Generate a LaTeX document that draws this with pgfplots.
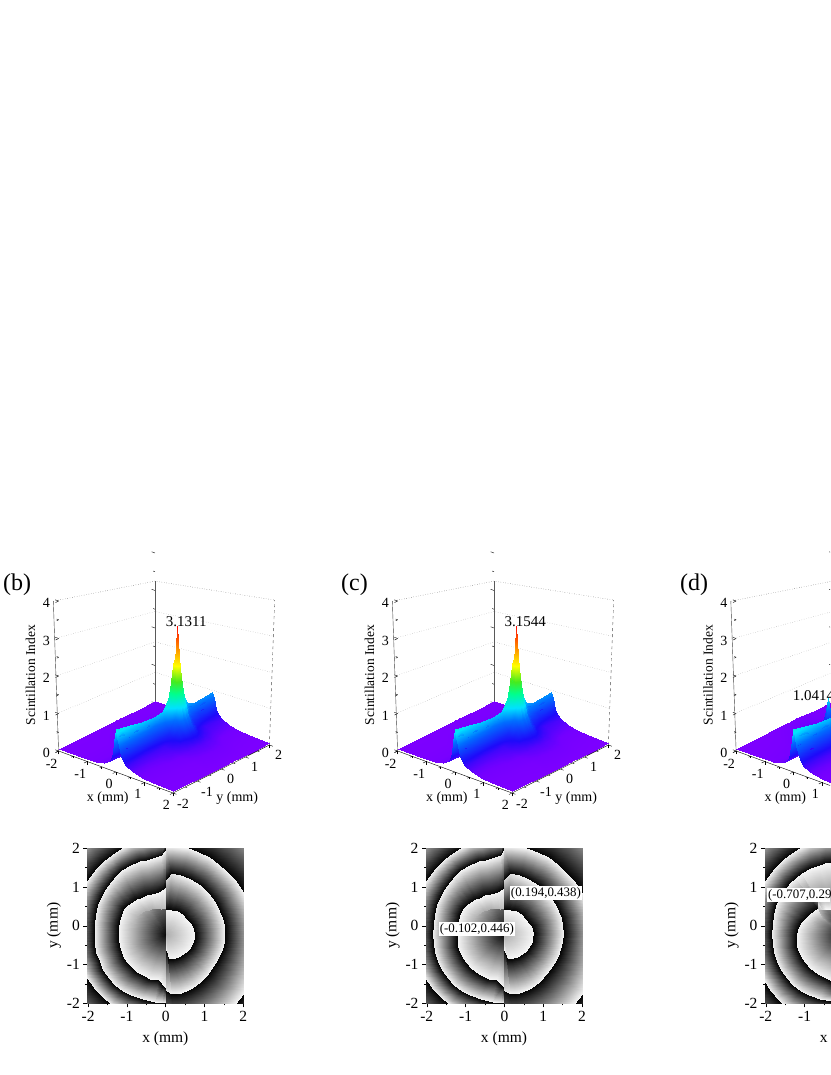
\documentclass[border=0pt]{standalone}
\usepackage{fontspec}
\setmainfont{Liberation Serif}
\usepackage{pgfplots}
\usepackage{pgfplotstable}
\pgfplotsset{compat=1.18}

% scintillation surface for (b) and (c), one line per x
\pgfplotstableread[row sep=\\]{
x y z\\
-2 -2 .05\\ -2 -1.4 .05\\ -2 -.9 .05\\ -2 -.4 .05\\ -2 -.06 .05\\ -2 .19 .05\\ -2 .32 .05\\ -2 .39 .05\\ -2 .44 .05\\ -2 .49 .05\\ -2 .56 .05\\ -2 .69 .05\\ -2 .94 .05\\ -2 1.3 .05\\ -2 2 .05\\
-1.2 -2 .06\\ -1.2 -1.4 .06\\ -1.2 -.9 .06\\ -1.2 -.4 .07\\ -1.2 -.06 .08\\ -1.2 .19 .09\\ -1.2 .32 .09\\ -1.2 .39 .09\\ -1.2 .44 .09\\ -1.2 .49 .09\\ -1.2 .56 .09\\ -1.2 .69 .09\\ -1.2 .94 .08\\ -1.2 1.3 .07\\ -1.2 2 .06\\
-.7 -2 .08\\ -.7 -1.4 .08\\ -.7 -.9 .09\\ -.7 -.4 .12\\ -.7 -.06 .15\\ -.7 .19 .17\\ -.7 .32 .18\\ -.7 .39 .18\\ -.7 .44 .18\\ -.7 .49 .18\\ -.7 .56 .18\\ -.7 .69 .17\\ -.7 .94 .15\\ -.7 1.3 .12\\ -.7 2 .08\\
-.4 -2 .14\\ -.4 -1.4 .13\\ -.4 -.9 .14\\ -.4 -.4 .19\\ -.4 -.06 .26\\ -.4 .19 .33\\ -.4 .32 .37\\ -.4 .39 .37\\ -.4 .44 .37\\ -.4 .49 .37\\ -.4 .56 .37\\ -.4 .69 .33\\ -.4 .94 .25\\ -.4 1.3 .18\\ -.4 2 .13\\
-.2 -2 .24\\ -.2 -1.4 .22\\ -.2 -.9 .23\\ -.2 -.4 .26\\ -.2 -.06 .34\\ -.2 .19 .50\\ -.2 .32 .66\\ -.2 .39 .69\\ -.2 .44 .69\\ -.2 .49 .69\\ -.2 .56 .66\\ -.2 .69 .50\\ -.2 .94 .32\\ -.2 1.3 .24\\ -.2 2 .20\\
-.1 -2 .47\\ -.1 -1.4 .43\\ -.1 -.9 .42\\ -.1 -.4 .43\\ -.1 -.06 .52\\ -.1 .19 .76\\ -.1 .32 1.05\\ -.1 .39 1.14\\ -.1 .44 1.15\\ -.1 .49 1.14\\ -.1 .56 1.05\\ -.1 .69 .75\\ -.1 .94 .50\\ -.1 1.3 .38\\ -.1 2 .37\\
-.05 -2 .80\\ -.05 -1.4 .73\\ -.05 -.9 .70\\ -.05 -.4 .68\\ -.05 -.06 .76\\ -.05 .19 1.05\\ -.05 .32 1.45\\ -.05 .39 1.59\\ -.05 .44 1.63\\ -.05 .49 1.59\\ -.05 .56 1.44\\ -.05 .69 1.05\\ -.05 .94 .72\\ -.05 1.3 .60\\ -.05 2 .60\\
0 -2 1.15\\ 0 -1.4 1.05\\ 0 -.9 .99\\ 0 -.4 .95\\ 0 -.06 1.00\\ 0 .19 1.30\\ 0 .32 1.87\\ 0 .39 2.12\\ 0 .44 2.20\\ 0 .49 2.12\\ 0 .56 1.86\\ 0 .69 1.30\\ 0 .94 .90\\ 0 1.3 .82\\ 0 2 .85\\
.05 -2 .95\\ .05 -1.4 .87\\ .05 -.9 .82\\ .05 -.4 .80\\ .05 -.06 .88\\ .05 .19 1.25\\ .05 .32 1.85\\ .05 .39 2.30\\ .05 .44 2.50\\ .05 .49 2.30\\ .05 .56 1.84\\ .05 .69 1.25\\ .05 .94 .82\\ .05 1.3 .70\\ .05 2 .72\\
.1 -2 .73\\ .1 -1.4 .67\\ .1 -.9 .64\\ .1 -.4 .62\\ .1 -.06 .72\\ .1 .19 1.12\\ .1 .32 1.73\\ .1 .39 2.33\\ .1 .44 3.13\\ .1 .49 2.33\\ .1 .56 1.72\\ .1 .69 1.12\\ .1 .94 .70\\ .1 1.3 .56\\ .1 2 .56\\
.15 -2 .57\\ .15 -1.4 .52\\ .15 -.9 .50\\ .15 -.4 .50\\ .15 -.06 .60\\ .15 .19 1.00\\ .15 .32 1.55\\ .15 .39 2.00\\ .15 .44 2.20\\ .15 .49 2.00\\ .15 .56 1.54\\ .15 .69 1.00\\ .15 .94 .60\\ .15 1.3 .46\\ .15 2 .43\\
.22 -2 .41\\ .22 -1.4 .38\\ .22 -.9 .37\\ .22 -.4 .38\\ .22 -.06 .50\\ .22 .19 .82\\ .22 .32 1.23\\ .22 .39 1.43\\ .22 .44 1.48\\ .22 .49 1.43\\ .22 .56 1.23\\ .22 .69 .82\\ .22 .94 .50\\ .22 1.3 .35\\ .22 2 .32\\
.35 -2 .27\\ .35 -1.4 .25\\ .35 -.9 .25\\ .35 -.4 .27\\ .35 -.06 .37\\ .35 .19 .58\\ .35 .32 .78\\ .35 .39 .84\\ .35 .44 .85\\ .35 .49 .84\\ .35 .56 .78\\ .35 .69 .58\\ .35 .94 .36\\ .35 1.3 .26\\ .35 2 .22\\
.6 -2 .16\\ .6 -1.4 .15\\ .6 -.9 .16\\ .6 -.4 .20\\ .6 -.06 .28\\ .6 .19 .35\\ .6 .32 .39\\ .6 .39 .39\\ .6 .44 .39\\ .6 .49 .39\\ .6 .56 .39\\ .6 .69 .35\\ .6 .94 .27\\ .6 1.3 .20\\ .6 2 .15\\
.9 -2 .10\\ .9 -1.4 .10\\ .9 -.9 .11\\ .9 -.4 .13\\ .9 -.06 .17\\ .9 .19 .19\\ .9 .32 .20\\ .9 .39 .20\\ .9 .44 .20\\ .9 .49 .20\\ .9 .56 .20\\ .9 .69 .19\\ .9 .94 .17\\ .9 1.3 .12\\ .9 2 .10\\
1.3 -2 .07\\ 1.3 -1.4 .07\\ 1.3 -.9 .07\\ 1.3 -.4 .08\\ 1.3 -.06 .10\\ 1.3 .19 .11\\ 1.3 .32 .11\\ 1.3 .39 .11\\ 1.3 .44 .11\\ 1.3 .49 .11\\ 1.3 .56 .11\\ 1.3 .69 .11\\ 1.3 .94 .10\\ 1.3 1.3 .08\\ 1.3 2 .07\\
2 -2 .05\\ 2 -1.4 .05\\ 2 -.9 .05\\ 2 -.4 .05\\ 2 -.06 .05\\ 2 .19 .05\\ 2 .32 .05\\ 2 .39 .05\\ 2 .44 .05\\ 2 .49 .05\\ 2 .56 .05\\ 2 .69 .05\\ 2 .94 .05\\ 2 1.3 .05\\ 2 2 .05\\
}\surfbc

% surface for (d), peak near (-0.707,0.29)
\pgfplotstableread[row sep=\\]{
x y z\\
-2 -2 .05\\ -2 -1 .05\\ -2 -.3 .06\\ -2 .1 .07\\ -2 .22 .07\\ -2 .29 .07\\ -2 .36 .07\\ -2 .5 .07\\ -2 .9 .06\\ -2 1.3 .05\\ -2 2 .05\\
-1.2 -2 .06\\ -1.2 -1 .07\\ -1.2 -.3 .11\\ -1.2 .1 .16\\ -1.2 .22 .16\\ -1.2 .29 .16\\ -1.2 .36 .16\\ -1.2 .5 .15\\ -1.2 .9 .11\\ -1.2 1.3 .08\\ -1.2 2 .06\\
-.9 -2 .07\\ -.9 -1 .09\\ -.9 -.3 .15\\ -.9 .1 .27\\ -.9 .22 .34\\ -.9 .29 .35\\ -.9 .36 .34\\ -.9 .5 .26\\ -.9 .9 .15\\ -.9 1.3 .10\\ -.9 2 .07\\
-.77 -2 .07\\ -.77 -1 .09\\ -.77 -.3 .15\\ -.77 .1 .35\\ -.77 .22 .55\\ -.77 .29 .67\\ -.77 .36 .55\\ -.77 .5 .32\\ -.77 .9 .15\\ -.77 1.3 .10\\ -.77 2 .07\\
-.7 -2 .08\\ -.7 -1 .10\\ -.7 -.3 .16\\ -.7 .1 .38\\ -.7 .22 .68\\ -.7 .29 1.04\\ -.7 .36 .68\\ -.7 .5 .35\\ -.7 .9 .16\\ -.7 1.3 .11\\ -.7 2 .08\\
-.63 -2 .09\\ -.63 -1 .10\\ -.63 -.3 .17\\ -.63 .1 .37\\ -.63 .22 .57\\ -.63 .29 .69\\ -.63 .36 .57\\ -.63 .5 .34\\ -.63 .9 .17\\ -.63 1.3 .12\\ -.63 2 .09\\
-.5 -2 .12\\ -.5 -1 .12\\ -.5 -.3 .18\\ -.5 .1 .30\\ -.5 .22 .37\\ -.5 .29 .38\\ -.5 .36 .37\\ -.5 .5 .29\\ -.5 .9 .18\\ -.5 1.3 .13\\ -.5 2 .11\\
-.3 -2 .17\\ -.3 -1 .17\\ -.3 -.3 .21\\ -.3 .1 .26\\ -.3 .22 .27\\ -.3 .29 .27\\ -.3 .36 .27\\ -.3 .5 .26\\ -.3 .9 .20\\ -.3 1.3 .17\\ -.3 2 .15\\
-.15 -2 .33\\ -.15 -1 .29\\ -.15 -.3 .32\\ -.15 .1 .34\\ -.15 .22 .35\\ -.15 .29 .35\\ -.15 .36 .35\\ -.15 .5 .34\\ -.15 .9 .30\\ -.15 1.3 .27\\ -.15 2 .28\\
-.05 -2 .80\\ -.05 -1 .69\\ -.05 -.3 .68\\ -.05 .1 .70\\ -.05 .22 .70\\ -.05 .29 .70\\ -.05 .36 .70\\ -.05 .5 .70\\ -.05 .9 .62\\ -.05 1.3 .61\\ -.05 2 .68\\
0 -2 1.15\\ 0 -1 .98\\ 0 -.3 .96\\ 0 .1 .96\\ 0 .22 .97\\ 0 .29 .97\\ 0 .36 .97\\ 0 .5 .96\\ 0 .9 .87\\ 0 1.3 .87\\ 0 2 .97\\
.05 -2 .95\\ .05 -1 .81\\ .05 -.3 .79\\ .05 .1 .80\\ .05 .22 .80\\ .05 .29 .80\\ .05 .36 .80\\ .05 .5 .80\\ .05 .9 .72\\ .05 1.3 .72\\ .05 2 .80\\
.1 -2 .73\\ .1 -1 .63\\ .1 -.3 .62\\ .1 .1 .63\\ .1 .22 .63\\ .1 .29 .63\\ .1 .36 .63\\ .1 .5 .63\\ .1 .9 .56\\ .1 1.3 .56\\ .1 2 .62\\
.22 -2 .41\\ .22 -1 .36\\ .22 -.3 .37\\ .22 .1 .37\\ .22 .22 .37\\ .22 .29 .37\\ .22 .36 .37\\ .22 .5 .37\\ .22 .9 .33\\ .22 1.3 .32\\ .22 2 .35\\
.35 -2 .27\\ .35 -1 .24\\ .35 -.3 .24\\ .35 .1 .25\\ .35 .22 .25\\ .35 .29 .25\\ .35 .36 .25\\ .35 .5 .25\\ .35 .9 .23\\ .35 1.3 .21\\ .35 2 .23\\
.6 -2 .16\\ .6 -1 .14\\ .6 -.3 .14\\ .6 .1 .15\\ .6 .22 .15\\ .6 .29 .15\\ .6 .36 .15\\ .6 .5 .15\\ .6 .9 .13\\ .6 1.3 .13\\ .6 2 .14\\
1 -2 .09\\ 1 -1 .08\\ 1 -.3 .08\\ 1 .1 .08\\ 1 .22 .08\\ 1 .29 .08\\ 1 .36 .08\\ 1 .5 .08\\ 1 .9 .08\\ 1 1.3 .08\\ 1 2 .08\\
2 -2 .05\\ 2 -1 .05\\ 2 -.3 .05\\ 2 .1 .05\\ 2 .22 .05\\ 2 .29 .05\\ 2 .36 .05\\ 2 .5 .05\\ 2 .9 .05\\ 2 1.3 .05\\ 2 2 .05\\
}\surfd

% phase, left half x<0 for (b) and (c): ten points along each ray
\pgfplotstableread[row sep=\\]{
x y m\\
0 -.2 .02\\ 0 .45 .35\\ 0 .45 .75\\ 0 1.05 .97\\ 0 1.05 .02\\ 0 2.0 .97\\ 0 2.0 .02\\ 0 2.35 .97\\ 0 2.35 .02\\ 0 3.2 1\\
0 -.2 .02\\ -.03 .45 .36\\ -.03 .45 .75\\ -.06 .95 .97\\ -.06 .95 .02\\ -.11 1.82 .97\\ -.11 1.82 .02\\ -.13 2.35 .97\\ -.13 2.35 .02\\ -.18 3.2 1\\
0 -.2 .02\\ -.11 .44 .38\\ -.11 .44 .72\\ -.19 .86 .97\\ -.19 .86 .02\\ -.34 1.74 .97\\ -.34 1.74 .02\\ -.44 2.28 .97\\ -.44 2.28 .02\\ -.59 3.15 1\\
0 -.2 .02\\ -.17 .45 .41\\ -.17 .45 .72\\ -.28 .85 .97\\ -.28 .85 .02\\ -.51 1.71 .97\\ -.51 1.71 .02\\ -.65 2.22 .97\\ -.65 2.22 .02\\ -.88 3.08 1\\
0 -.2 .02\\ -.24 .46 .45\\ -.24 .46 .72\\ -.37 .82 .97\\ -.37 .82 .02\\ -.68 1.66 .97\\ -.68 1.66 .02\\ -.86 2.15 .97\\ -.86 2.15 .02\\ -1.16 3.0 1\\
0 -.2 .02\\ -.34 .45 .52\\ -.34 .45 .70\\ -.52 .79 .97\\ -.52 .79 .02\\ -.92 1.57 .97\\ -.92 1.57 .02\\ -1.15 2.01 .97\\ -1.15 2.01 .02\\ -1.57 2.82 1\\
0 -.2 .02\\ -.44 .42 .58\\ -.44 .42 .68\\ -.65 .73 .97\\ -.65 .73 .02\\ -1.15 1.44 .97\\ -1.15 1.44 .02\\ -1.42 1.83 .97\\ -1.42 1.83 .02\\ -1.95 2.58 1\\
0 -.2 .02\\ -.52 .4 .62\\ -.52 .4 .69\\ -.77 .68 .97\\ -.77 .68 .02\\ -1.3 1.29 .97\\ -1.3 1.29 .02\\ -1.62 1.66 .97\\ -1.62 1.66 .02\\ -2.23 2.37 1\\
0 -.2 .02\\ -.6 .36 .65\\ -.6 .36 .70\\ -.88 .62 .97\\ -.88 .62 .02\\ -1.43 1.14 .97\\ -1.43 1.14 .02\\ -1.8 1.48 .97\\ -1.8 1.48 .02\\ -2.49 2.12 1\\
0 -.2 .02\\ -.68 .31 .69\\ -.68 .31 .71\\ -.99 .53 .97\\ -.99 .53 .02\\ -1.56 .95 .97\\ -1.56 .95 .02\\ -1.97 1.26 .97\\ -1.97 1.26 .02\\ -2.73 1.82 1\\
0 -.2 .02\\ -.76 .24 .72\\ -.76 .24 .72\\ -1.09 .43 .97\\ -1.09 .43 .02\\ -1.66 .76 .97\\ -1.66 .76 .02\\ -2.12 1.03 .97\\ -2.12 1.03 .02\\ -2.94 1.5 1\\
0 -.2 .02\\ -.8 .13 .71\\ -.8 .13 .71\\ -1.16 .28 .97\\ -1.16 .28 .02\\ -1.76 .53 .97\\ -1.76 .53 .02\\ -2.25 .73 .97\\ -2.25 .73 .02\\ -3.14 1.1 1\\
0 -.2 .02\\ -.82 .02 .7\\ -.82 .02 .7\\ -1.2 .12 .97\\ -1.2 .12 .02\\ -1.82 .29 .97\\ -1.82 .29 .02\\ -2.34 .43 .97\\ -2.34 .43 .02\\ -3.28 .68 1\\
0 -.2 .02\\ -.84 -.09 .7\\ -.84 -.09 .7\\ -1.22 -.04 .97\\ -1.22 -.04 .02\\ -1.85 .04 .97\\ -1.85 .04 .02\\ -2.39 .12 .97\\ -2.39 .12 .02\\ -3.37 .25 1\\
0 -.2 .02\\ -.85 -.2 .7\\ -.85 -.2 .7\\ -1.22 -.2 .97\\ -1.22 -.2 .02\\ -1.86 -.2 .97\\ -1.86 -.2 .02\\ -2.4 -.2 .97\\ -2.4 -.2 .02\\ -3.4 -.2 1\\
0 -.2 .02\\ -.85 -.31 .7\\ -.85 -.31 .7\\ -1.22 -.36 .97\\ -1.22 -.36 .02\\ -1.85 -.44 .97\\ -1.85 -.44 .02\\ -2.37 -.51 .97\\ -2.37 -.51 .02\\ -3.37 -.65 1\\
0 -.2 .02\\ -.84 -.43 .7\\ -.84 -.43 .7\\ -1.21 -.52 .97\\ -1.21 -.52 .02\\ -1.81 -.68 .97\\ -1.81 -.68 .02\\ -2.3 -.82 .97\\ -2.3 -.82 .02\\ -3.28 -1.08 1\\
0 -.2 .02\\ -.81 -.54 .7\\ -.81 -.54 .7\\ -1.16 -.68 .97\\ -1.16 -.68 .02\\ -1.73 -.92 .97\\ -1.73 -.92 .02\\ -2.19 -1.11 .97\\ -2.19 -1.11 .02\\ -3.14 -1.5 1\\
0 -.2 .02\\ -.77 -.65 .7\\ -.77 -.65 .7\\ -1.1 -.84 .97\\ -1.1 -.84 .02\\ -1.63 -1.14 .97\\ -1.63 -1.14 .02\\ -2.04 -1.38 .97\\ -2.04 -1.38 .02\\ -2.94 -1.9 1\\
0 -.2 .02\\ -.7 -.74 .7\\ -.7 -.74 .7\\ -1.0 -.97 .97\\ -1.0 -.97 .02\\ -1.48 -1.34 .97\\ -1.48 -1.34 .02\\ -1.86 -1.63 .97\\ -1.86 -1.63 .02\\ -2.7 -2.27 1\\
0 -.2 .02\\ -.62 -.82 .7\\ -.62 -.82 .7\\ -.88 -1.08 .97\\ -.88 -1.08 .02\\ -1.32 -1.52 .97\\ -1.32 -1.52 .02\\ -1.65 -1.85 .97\\ -1.65 -1.85 .02\\ -2.4 -2.6 1\\
0 -.2 .02\\ -.53 -.89 .7\\ -.53 -.89 .7\\ -.76 -1.18 .97\\ -.76 -1.18 .02\\ -1.13 -1.67 .97\\ -1.13 -1.67 .02\\ -1.42 -2.05 .97\\ -1.42 -2.05 .02\\ -2.07 -2.9 1\\
0 -.2 .02\\ -.43 -.94 .7\\ -.43 -.94 .7\\ -.62 -1.27 .97\\ -.62 -1.27 .02\\ -.92 -1.79 .97\\ -.92 -1.79 .02\\ -1.16 -2.21 .97\\ -1.16 -2.21 .02\\ -1.7 -3.14 1\\
0 -.2 .02\\ -.29 -1.01 .7\\ -.29 -1.01 .7\\ -.42 -1.36 .97\\ -.42 -1.36 .02\\ -.62 -1.9 .97\\ -.62 -1.9 .02\\ -.79 -2.37 .97\\ -.79 -2.37 .02\\ -1.16 -3.4 1\\
0 -.2 .02\\ -.15 -1.05 .7\\ -.15 -1.05 .7\\ -.21 -1.41 .97\\ -.21 -1.41 .02\\ -.31 -1.96 .97\\ -.31 -1.96 .02\\ -.4 -2.47 .97\\ -.4 -2.47 .02\\ -.59 -3.55 1\\
0 -.2 .02\\ -.05 -1.1 .7\\ -.05 -1.1 .7\\ -.07 -1.55 .97\\ -.07 -1.55 .02\\ -.09 -1.98 .97\\ -.09 -1.98 .02\\ -.12 -2.5 .97\\ -.12 -2.5 .02\\ -.18 -3.6 1\\
0 -.2 .02\\ 0 -1.15 .7\\ 0 -1.15 .7\\ 0 -1.62 .97\\ 0 -1.62 .02\\ 0 -2.0 .97\\ 0 -2.0 .02\\ 0 -2.5 .97\\ 0 -2.5 .02\\ 0 -3.6 1\\
}\phaseleft

% phase, right half x>0 for (b) and (c): eight points along each ray
\pgfplotstableread[row sep=\\]{
x y m\\
0 -.2 .68\\ 0 .43 .97\\ 0 .43 .02\\ 0 1.22 .85\\ 0 1.22 .02\\ 0 2.07 .97\\ 0 2.07 .02\\ 0 3.5 1\\
0 -.2 .68\\ .05 .43 .97\\ .05 .43 .02\\ .14 1.35 .9\\ .14 1.35 .02\\ .2 2.06 .97\\ .2 2.06 .02\\ .32 3.49 1\\
0 -.2 .68\\ .11 .43 .97\\ .11 .43 .02\\ .27 1.33 .93\\ .27 1.33 .02\\ .39 2.04 .97\\ .39 2.04 .02\\ .64 3.44 1\\
0 -.2 .68\\ .17 .42 .97\\ .17 .42 .02\\ .4 1.3 .95\\ .4 1.3 .02\\ .59 2.0 .97\\ .59 2.0 .02\\ .96 3.37 1\\
0 -.2 .68\\ .25 .4 .97\\ .25 .4 .02\\ .59 1.23 .96\\ .59 1.23 .02\\ .87 1.9 .97\\ .87 1.9 .02\\ 1.42 3.22 1\\
0 -.2 .68\\ .33 .37 .97\\ .33 .37 .02\\ .77 1.13 .97\\ .77 1.13 .02\\ 1.14 1.77 .97\\ 1.14 1.77 .02\\ 1.85 3.0 1\\
0 -.2 .68\\ .4 .32 .97\\ .4 .32 .02\\ .93 1.02 .97\\ .93 1.02 .02\\ 1.38 1.6 .97\\ 1.38 1.6 .02\\ 2.25 2.73 1\\
0 -.2 .68\\ .47 .27 .97\\ .47 .27 .02\\ 1.08 .88 .97\\ 1.08 .88 .02\\ 1.6 1.4 .97\\ 1.6 1.4 .02\\ 2.62 2.42 1\\
0 -.2 .68\\ .53 .2 .97\\ .53 .2 .02\\ 1.21 .73 .97\\ 1.21 .73 .02\\ 1.8 1.18 .97\\ 1.8 1.18 .02\\ 2.93 2.05 1\\
0 -.2 .68\\ .58 .14 .97\\ .58 .14 .02\\ 1.32 .56 .97\\ 1.32 .56 .02\\ 1.97 .94 .97\\ 1.97 .94 .02\\ 3.2 1.65 1\\
0 -.2 .68\\ .64 .06 .97\\ .64 .06 .02\\ 1.41 .38 .97\\ 1.41 .38 .02\\ 2.11 .67 .97\\ 2.11 .67 .02\\ 3.42 1.22 1\\
0 -.2 .68\\ .7 -.01 .97\\ .7 -.01 .02\\ 1.48 .2 .97\\ 1.48 .2 .02\\ 2.22 .4 .97\\ 2.22 .4 .02\\ 3.57 .76 1\\
0 -.2 .68\\ .73 -.1 .97\\ .73 -.1 .02\\ 1.52 0 .97\\ 1.52 0 .02\\ 2.3 .1 .97\\ 2.3 .1 .02\\ 3.67 .28 1\\
0 -.2 .68\\ .76 -.2 .97\\ .76 -.2 .02\\ 1.54 -.2 .97\\ 1.54 -.2 .02\\ 2.35 -.2 .97\\ 2.35 -.2 .02\\ 3.7 -.2 1\\
0 -.2 .68\\ .75 -.3 .97\\ .75 -.3 .02\\ 1.52 -.4 .97\\ 1.52 -.4 .02\\ 2.36 -.51 .97\\ 2.36 -.51 .02\\ 3.67 -.68 1\\
0 -.2 .68\\ .73 -.4 .97\\ .73 -.4 .02\\ 1.47 -.59 .97\\ 1.47 -.59 .02\\ 2.34 -.83 .97\\ 2.34 -.83 .02\\ 3.57 -1.16 1\\
0 -.2 .68\\ .69 -.49 .97\\ .69 -.49 .02\\ 1.4 -.78 .97\\ 1.4 -.78 .02\\ 2.28 -1.15 .97\\ 2.28 -1.15 .02\\ 3.42 -1.62 1\\
0 -.2 .68\\ .64 -.57 .97\\ .64 -.57 .02\\ 1.3 -.95 .97\\ 1.3 -.95 .02\\ 2.18 -1.46 .97\\ 2.18 -1.46 .02\\ 3.2 -2.05 1\\
0 -.2 .68\\ .57 -.64 .97\\ .57 -.64 .02\\ 1.2 -1.12 .97\\ 1.2 -1.12 .02\\ 2.02 -1.75 .97\\ 2.02 -1.75 .02\\ 2.93 -2.45 1\\
0 -.2 .68\\ .5 -.7 .97\\ .5 -.7 .02\\ 1.08 -1.28 .97\\ 1.08 -1.28 .02\\ 1.82 -2.02 .97\\ 1.82 -2.02 .02\\ 2.62 -2.82 1\\
0 -.2 .68\\ .43 -.76 .97\\ .43 -.76 .02\\ .94 -1.43 .97\\ .94 -1.43 .02\\ 1.58 -2.25 .97\\ 1.58 -2.25 .02\\ 2.25 -3.13 1\\
0 -.2 .68\\ .35 -.8 .97\\ .35 -.8 .02\\ .79 -1.56 .97\\ .79 -1.56 .02\\ 1.3 -2.45 .97\\ 1.3 -2.45 .02\\ 1.85 -3.4 1\\
0 -.2 .68\\ .26 -.83 .97\\ .26 -.83 .02\\ .6 -1.66 .97\\ .6 -1.66 .02\\ 1.0 -2.6 .97\\ 1.0 -2.6 .02\\ 1.42 -3.62 1\\
0 -.2 .68\\ .17 -.85 .97\\ .17 -.85 .02\\ .41 -1.73 .97\\ .41 -1.73 .02\\ .67 -2.71 .97\\ .67 -2.71 .02\\ .96 -3.77 1\\
0 -.2 .68\\ .12 -.85 .97\\ .12 -.85 .02\\ .27 -1.75 .97\\ .27 -1.75 .02\\ .45 -2.76 .97\\ .45 -2.76 .02\\ .64 -3.84 1\\
0 -.2 .68\\ .06 -.86 .97\\ .06 -.86 .02\\ .14 -1.76 .97\\ .14 -1.76 .02\\ .23 -2.79 .97\\ .23 -2.79 .02\\ .32 -3.89 1\\
0 -.2 .68\\ 0 -.65 .97\\ 0 -.65 .02\\ 0 -1.67 .9\\ 0 -1.67 .02\\ 0 -2.8 .97\\ 0 -2.8 .02\\ 0 -3.9 1\\
}\phaseright

% phase for (d), only x<-0.33 is on the page
\pgfplotstableread[row sep=\\]{
x y m\\
0 -.2 .02\\ 0 .45 .4\\ 0 .45 .95\\ 0 .9 .6\\ 0 .9 .6\\ 0 1.7 .97\\ 0 1.7 .02\\ 0 2.35 .97\\ 0 2.35 .02\\ 0 3.2 1\\
0 -.2 .02\\ -.11 .44 .4\\ -.11 .44 .95\\ -.19 .88 .6\\ -.19 .88 .6\\ -.33 1.64 .97\\ -.33 1.64 .02\\ -.44 2.28 .97\\ -.44 2.28 .02\\ -.59 3.15 1\\
0 -.2 .02\\ -.17 .44 .4\\ -.17 .44 .95\\ -.29 .88 .6\\ -.29 .88 .6\\ -.49 1.61 .97\\ -.49 1.61 .02\\ -.65 2.22 .97\\ -.65 2.22 .02\\ -.88 3.08 1\\
0 -.2 .02\\ -.23 .44 .42\\ -.23 .44 .95\\ -.39 .88 .62\\ -.39 .88 .62\\ -.64 1.57 .97\\ -.64 1.57 .02\\ -.86 2.15 .97\\ -.86 2.15 .02\\ -1.16 3.0 1\\
0 -.2 .02\\ -.33 .44 .45\\ -.33 .44 .96\\ -.55 .85 .6\\ -.55 .85 .6\\ -.87 1.48 .97\\ -.87 1.48 .02\\ -1.15 2.01 .97\\ -1.15 2.01 .02\\ -1.57 2.82 1\\
0 -.2 .02\\ -.44 .43 .5\\ -.44 .43 .97\\ -.69 .78 .6\\ -.69 .78 .6\\ -1.1 1.36 .97\\ -1.1 1.36 .02\\ -1.42 1.83 .97\\ -1.42 1.83 .02\\ -1.95 2.58 1\\
0 -.2 .02\\ -.56 .44 .6\\ -.56 .44 .85\\ -.69 .59 .85\\ -.69 .59 .3\\ -1.25 1.24 .97\\ -1.25 1.24 .02\\ -1.62 1.66 .97\\ -1.62 1.66 .02\\ -2.23 2.37 1\\
0 -.2 .02\\ -.66 .41 .75\\ -.66 .41 .75\\ -.69 .45 .97\\ -.69 .45 .02\\ -1.39 1.1 .97\\ -1.39 1.1 .02\\ -1.8 1.48 .97\\ -1.8 1.48 .02\\ -2.49 2.12 1\\
0 -.2 .02\\ -.58 .23 .72\\ -.58 .23 .72\\ -.79 .38 .97\\ -.79 .38 .02\\ -1.53 .93 .97\\ -1.53 .93 .02\\ -1.97 1.26 .97\\ -1.97 1.26 .02\\ -2.73 1.82 1\\
0 -.2 .02\\ -.65 .18 .7\\ -.65 .18 .7\\ -.88 .31 .97\\ -.88 .31 .02\\ -1.65 .75 .97\\ -1.65 .75 .02\\ -2.12 1.03 .97\\ -2.12 1.03 .02\\ -2.94 1.5 1\\
0 -.2 .02\\ -.72 .1 .7\\ -.72 .1 .7\\ -.99 .21 .97\\ -.99 .21 .02\\ -1.75 .52 .97\\ -1.75 .52 .02\\ -2.25 .73 .97\\ -2.25 .73 .02\\ -3.14 1.1 1\\
0 -.2 .02\\ -.77 .01 .7\\ -.77 .01 .7\\ -1.09 .09 .97\\ -1.09 .09 .02\\ -1.82 .29 .97\\ -1.82 .29 .02\\ -2.34 .43 .97\\ -2.34 .43 .02\\ -3.28 .68 1\\
0 -.2 .02\\ -.81 -.09 .7\\ -.81 -.09 .7\\ -1.18 -.04 .97\\ -1.18 -.04 .02\\ -1.85 .04 .97\\ -1.85 .04 .02\\ -2.39 .12 .97\\ -2.39 .12 .02\\ -3.37 .25 1\\
0 -.2 .02\\ -.85 -.2 .7\\ -.85 -.2 .7\\ -1.23 -.2 .97\\ -1.23 -.2 .02\\ -1.87 -.2 .97\\ -1.87 -.2 .02\\ -2.4 -.2 .97\\ -2.4 -.2 .02\\ -3.4 -.2 1\\
0 -.2 .02\\ -.85 -.31 .7\\ -.85 -.31 .7\\ -1.23 -.36 .97\\ -1.23 -.36 .02\\ -1.85 -.44 .97\\ -1.85 -.44 .02\\ -2.39 -.51 .97\\ -2.39 -.51 .02\\ -3.37 -.65 1\\
0 -.2 .02\\ -.84 -.43 .7\\ -.84 -.43 .7\\ -1.22 -.52 .97\\ -1.22 -.52 .02\\ -1.81 -.68 .97\\ -1.81 -.68 .02\\ -2.34 -.83 .97\\ -2.34 -.83 .02\\ -3.28 -1.08 1\\
0 -.2 .02\\ -.81 -.54 .7\\ -.81 -.54 .7\\ -1.16 -.68 .97\\ -1.16 -.68 .02\\ -1.73 -.92 .97\\ -1.73 -.92 .02\\ -2.23 -1.12 .97\\ -2.23 -1.12 .02\\ -3.14 -1.5 1\\
0 -.2 .02\\ -.77 -.65 .7\\ -.77 -.65 .7\\ -1.1 -.84 .97\\ -1.1 -.84 .02\\ -1.63 -1.14 .97\\ -1.63 -1.14 .02\\ -2.08 -1.4 .97\\ -2.08 -1.4 .02\\ -2.94 -1.9 1\\
0 -.2 .02\\ -.7 -.74 .7\\ -.7 -.74 .7\\ -1.0 -.97 .97\\ -1.0 -.97 .02\\ -1.48 -1.34 .97\\ -1.48 -1.34 .02\\ -1.9 -1.67 .97\\ -1.9 -1.67 .02\\ -2.7 -2.27 1\\
0 -.2 .02\\ -.62 -.82 .7\\ -.62 -.82 .7\\ -.88 -1.08 .97\\ -.88 -1.08 .02\\ -1.32 -1.52 .97\\ -1.32 -1.52 .02\\ -1.7 -1.9 .97\\ -1.7 -1.9 .02\\ -2.4 -2.6 1\\
0 -.2 .02\\ -.53 -.89 .7\\ -.53 -.89 .7\\ -.76 -1.18 .97\\ -.76 -1.18 .02\\ -1.13 -1.67 .97\\ -1.13 -1.67 .02\\ -1.46 -2.12 .97\\ -1.46 -2.12 .02\\ -2.07 -2.9 1\\
0 -.2 .02\\ -.43 -.94 .7\\ -.43 -.94 .7\\ -.62 -1.27 .97\\ -.62 -1.27 .02\\ -.92 -1.79 .97\\ -.92 -1.79 .02\\ -1.2 -2.28 .97\\ -1.2 -2.28 .02\\ -1.7 -3.14 1\\
0 -.2 .02\\ -.29 -1.01 .7\\ -.29 -1.01 .7\\ -.42 -1.36 .97\\ -.42 -1.36 .02\\ -.62 -1.9 .97\\ -.62 -1.9 .02\\ -.79 -2.37 .97\\ -.79 -2.37 .02\\ -1.16 -3.4 1\\
0 -.2 .02\\ 0 -1.15 .7\\ 0 -1.15 .7\\ 0 -1.62 .97\\ 0 -1.62 .02\\ 0 -2.0 .97\\ 0 -2.0 .02\\ 0 -2.5 .97\\ 0 -2.5 .02\\ 0 -3.6 1\\
}\phased

\pgfplotsset{
  surfax/.style={
    x={(28.6pt,-10.5pt)}, y={(24.1pt,12pt)}, z={(0pt,37.5pt)},
    anchor=origin, clip=false,
    xmin=-2, xmax=2, ymin=-2, ymax=2, zmin=0, zmax=4,
    axis line style={draw=none},
    xtick pos=left, ytick pos=left, ztick pos=left,
    xtick={-2,-1,0,1,2}, ytick={-2,-1,0,1,2}, ztick={0,1,2,3,4},
    minor x tick num=1, minor y tick num=1, minor z tick num=1,
    tick align=outside, major tick length=3.5pt, minor tick length=2pt,
    tick style={black,thin},
    % pgfplots puts these on the far top edge, the front ones are in \edges
    y tick style={draw=none}, minor y tick style={draw=none},
    /pgf/number format/assume math mode=true,
    ticklabel style={font=\fontsize{14}{16}\selectfont},
    xticklabel style={xshift=2pt, yshift=-1.5pt},
    zticklabel style={xshift=-2pt},
    xlabel={x (mm)}, ylabel={y (mm)}, zlabel={Scintillation Index},
    xlabel style={font=\fontsize{14}{16}\selectfont, at={(axis cs:0,-2,0)}, anchor=center, rotate=0, xshift=-8pt, yshift=-26pt},
    ylabel style={font=\fontsize{14}{16}\selectfont, at={(axis cs:2,0,0)}, anchor=center, rotate=0, xshift=16pt, yshift=-29pt},
    zlabel style={font=\fontsize{13.5}{16}\selectfont, at={(axis cs:-2,-2,2)}, anchor=center, rotate=0, xshift=1pt, yshift=28pt},
    colormap={scint}{rgb255(0)=(132,0,255) rgb255(12)=(115,0,255) rgb255(35)=(30,10,250) rgb255(75)=(0,110,255) rgb255(105)=(0,225,255) rgb255(140)=(0,255,140) rgb255(170)=(70,235,30) rgb255(210)=(255,255,0) rgb255(260)=(255,130,0) rgb255(315)=(255,0,0)},
    point meta min=0, point meta max=3.15,
  },
  phaseax/.style={
    anchor=south west, scale only axis, width=156pt, height=155pt,
    xmin=-2.02, xmax=2, ymin=-2, ymax=2,
    axis x line*=bottom, axis y line*=left, axis line style={-},
    xtick={-2,-1,0,1,2}, ytick={-2,-1,0,1,2},
    minor x tick num=1, minor y tick num=1,
    tick align=outside, major tick length=4pt, minor tick length=2pt,
    tick style={black,thin},
    /pgf/number format/assume math mode=true,
    ticklabel style={font=\fontsize{15.5}{18}\selectfont},
    xlabel={x (mm)}, ylabel={y (mm)},
    xlabel style={font=\fontsize{15.5}{18}\selectfont, yshift=-4pt},
    ylabel style={font=\fontsize{15.5}{18}\selectfont, yshift=-1pt},
    colormap/blackwhite, point meta min=0, point meta max=1,
  },
  % walls lean a little, the original was drawn in perspective
  wall/.style={dotted, gray!80, thin, no marks},
}
\newcommand{\walls}{
  \addplot3[wall] coordinates {(-2.025,-2.025,1) (-2,2,.82) (2.025,2.025,.97)};
  \addplot3[wall] coordinates {(-2.05,-2.05,2) (-2,2,1.63) (2.05,2.05,1.93)};
  \addplot3[wall] coordinates {(-2.075,-2.075,3) (-2,2,2.44) (2.075,2.075,2.9)};
  \addplot3[dotted, black!70, thin, no marks] coordinates {(-2.1,-2.1,4) (-2,2,3.25) (2.1,2.1,3.86)};
  \addplot3[black!65, thin, no marks] coordinates {(-2,2,0) (-2,2,3.25)};
  \addplot3[dashed, black!70, thin, no marks] coordinates {(2,2,0) (2.1,2.1,3.86)};
}
\newcommand{\edges}{
  \addplot3[black, thin, no marks] coordinates {(-2,-2,0) (2,-2,0)
    (2.12,-2,0) (2,-2,0) (2,-1.5,0) (2.07,-1.5,0) (2,-1.5,0)
    (2,-1,0) (2.12,-1,0) (2,-1,0) (2,-.5,0) (2.07,-.5,0) (2,-.5,0)
    (2,0,0) (2.12,0,0) (2,0,0) (2,.5,0) (2.07,.5,0) (2,.5,0)
    (2,1,0) (2.12,1,0) (2,1,0) (2,1.5,0) (2.07,1.5,0) (2,1.5,0)
    (2,2,0) (2.12,2,0) (2,2,0)};
  \addplot3[black!75, thin, no marks] coordinates {(-2,-2,0) (-2.1,-2.1,4)};
}
\newcommand{\bigfont}{\fontsize{24}{28}\selectfont}
\newcommand{\valfont}{\fontsize{15}{18}\selectfont}
\newcommand{\boxfont}{\fontsize{12.9}{15}\selectfont}

\begin{document}
\begin{tikzpicture}[x=1pt,y=1pt]
\path[use as bounding box] (0,0) rectangle (830,1075);
\clip (0,0) rectangle (830,1075);

\begin{axis}[surfax, at={(164pt,327pt)}]
  \walls
  \addplot3[surf, shader=interp, z buffer=sort, mesh/ordering=y varies, mesh/rows=15] table[x=x,y=y,z=z] {\surfbc};
  \edges
  \node[font=\valfont, xshift=3pt] at (axis cs:.3,.44,3.3) {3.1311};
\end{axis}
\begin{axis}[surfax, at={(503pt,327pt)}]
  \walls
  \addplot3[surf, shader=interp, z buffer=sort, mesh/ordering=y varies, mesh/rows=15] table[x=x,y=y,z=z] {\surfbc};
  \edges
  \node[font=\valfont, xshift=3pt] at (axis cs:.3,.44,3.3) {3.1544};
\end{axis}
\begin{axis}[surfax, at={(841.5pt,327pt)}]
  \walls
  \addplot3[surf, shader=interp, z buffer=sort, mesh/ordering=y varies, mesh/rows=11] table[x=x,y=y,z=z] {\surfd};
  \edges
  \node[font=\valfont, xshift=-15pt] at (axis cs:-.7,.29,1.12) {1.0414};
\end{axis}

\begin{axis}[phaseax, at={(87.3pt,71.7pt)}]
  \addplot[surf, shader=interp, mesh/cols=10, point meta=\thisrow{m}] table[x=x,y=y] {\phaseleft};
  \addplot[surf, shader=interp, mesh/cols=8, point meta=\thisrow{m}] table[x=x,y=y] {\phaseright};
\end{axis}
\begin{axis}[phaseax, at={(426pt,71.7pt)}]
  \addplot[surf, shader=interp, mesh/cols=10, point meta=\thisrow{m}] table[x=x,y=y] {\phaseleft};
  \addplot[surf, shader=interp, mesh/cols=8, point meta=\thisrow{m}] table[x=x,y=y] {\phaseright};
  \node[fill=white, inner sep=1pt, font=\boxfont] at (axis cs:1.07,.84) {(0.194,0.438)};
  \node[fill=white, inner sep=1pt, font=\boxfont] at (axis cs:-.71,-.08) {(-0.102,0.446)};
\end{axis}
\begin{axis}[phaseax, at={(765pt,71.7pt)}]
  \addplot[surf, shader=interp, mesh/cols=10, point meta=\thisrow{m}] table[x=x,y=y] {\phased};
  \node[fill=white, inner sep=1pt, font=\boxfont, anchor=west] at (axis cs:-1.97,.79) {(-0.707,0.290)};
\end{axis}

\node[anchor=west, inner sep=0pt, font=\bigfont] at (3,490) {(b)};
\node[anchor=west, inner sep=0pt, font=\bigfont] at (341,490) {(c)};
\node[anchor=west, inner sep=0pt, font=\bigfont] at (680,490) {(d)};
\end{tikzpicture}
\end{document}
